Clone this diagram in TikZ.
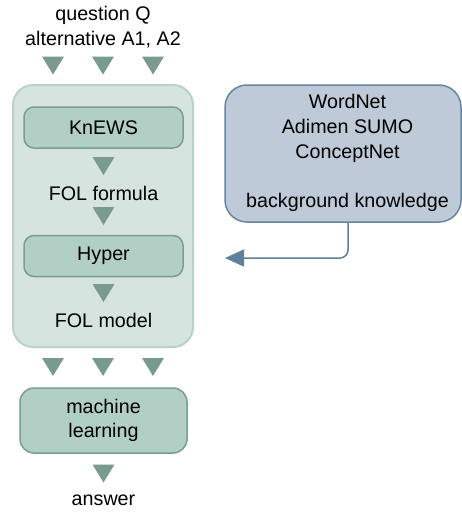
\documentclass[tikz,border=0pt]{standalone}
\usepackage{fontspec}
\setmainfont{Liberation Sans}
\usetikzlibrary{arrows.meta}
\definecolor{contfill}{HTML}{D5E4DE}
\definecolor{contdraw}{HTML}{B9D2C9}
\definecolor{boxfill}{HTML}{B2CFC5}
\definecolor{boxdraw}{HTML}{7A9D92}
\definecolor{tricol}{HTML}{799A90}
\definecolor{bkfill}{HTML}{BECAD7}
\definecolor{bkdraw}{HTML}{6885A0}
\definecolor{arrcol}{HTML}{5F7F9B}
\tikzset{
  txt/.style={font=\fontsize{19.7}{24.8}\selectfont, align=center, inner sep=0pt, text=black},
  container/.style={draw=contdraw, fill=contfill, line width=2pt, rounded corners=20pt, minimum width=180pt, minimum height=262pt, inner sep=0pt},
  stepbox/.style={draw=boxdraw, fill=boxfill, line width=1.5pt, rounded corners=10pt, minimum width=159pt, minimum height=41pt, inner sep=0pt, txt},
  mlbox/.style={draw=boxdraw, fill=boxfill, line width=1.5pt, rounded corners=14pt, minimum width=167pt, minimum height=65pt, inner sep=0pt, txt},
  bkbox/.style={draw=bkdraw, fill=bkfill, line width=1.5pt, rounded corners=22pt, minimum width=236pt, minimum height=137pt, inner sep=0pt},
  tri/.pic={\fill[tricol] (-11,-9) -- (11,-9) -- (0,9) -- cycle;}
}
\begin{document}
\begin{tikzpicture}[x=1pt,y=-1pt]
\useasboundingbox (0,0) rectangle (462,512);
% inputs
\node[txt] (inp) at (103,27.5) {question Q\\alternative A1, A2};
\pic at (53,65.5) {tri};
\pic at (103,65.5) {tri};
\pic at (153,65.5) {tri};
% container
\node[container] (cont) at (103,216) {};
\node[stepbox] (knews) at (103.5,127.5) {KnEWS};
\pic at (103.5,166) {tri};
\node[txt] (folf) at (103.5,193) {FOL formula};
\pic at (103.5,216) {tri};
\node[stepbox] (hyper) at (103.5,256) {Hyper};
\pic at (103.5,293) {tri};
\node[txt] (folm) at (103.5,320) {FOL model};
% outputs of container
\pic at (53,367) {tri};
\pic at (103,367) {tri};
\pic at (153,367) {tri};
\node[mlbox] (ml) at (103.5,420.5) {machine\\learning};
\pic at (103.5,473.5) {tri};
\node[txt] (ans) at (103.5,500) {answer};
% background knowledge
\node[bkbox] (bk) at (343,153.5) {};
\node[txt] (bktext) at (347.5,153) {WordNet\\Adimen SUMO\\ConceptNet\\[24.8pt]background knowledge};
\coordinate (bkout) at (348,222);
\coordinate (tip) at (225,258);
\draw[arrcol, line width=1.5pt, rounded corners=8pt, -{Triangle[length=19pt,width=17pt]}] (bkout) |- (tip);
\end{tikzpicture}
\end{document}
